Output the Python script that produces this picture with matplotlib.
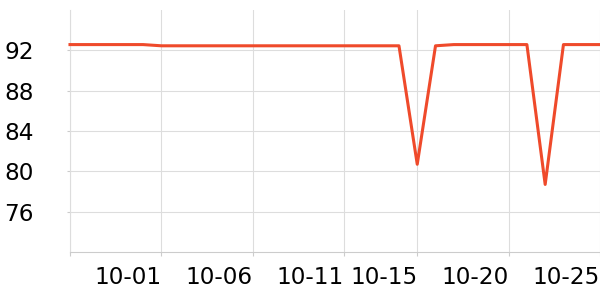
import numpy as np
import pandas as pd
import matplotlib
matplotlib.use('Agg')
import matplotlib.pyplot as plt
import matplotlib.dates as mdates

dates = pd.date_range('2023-09-26', '2023-10-25', freq='D')
values = [92.57, 92.57, 92.57, 92.57, 92.57,  # 09-26 .. 09-30
          92.45, 92.45, 92.45, 92.45, 92.45,  # 10-01 .. 10-05
          92.45, 92.45, 92.45, 92.45, 92.45,  # 10-06 .. 10-10
          92.45, 92.45, 92.45, 92.45,         # 10-11 .. 10-14
          80.7, 92.45,                        # 10-15, 10-16
          92.57, 92.57, 92.57, 92.57, 92.57,  # 10-17 .. 10-21
          78.7, 92.57, 92.57, 92.57]          # 10-22 .. 10-25
tick_dates = pd.to_datetime(['2023-09-26', '2023-10-01', '2023-10-06', '2023-10-11',
                             '2023-10-15', '2023-10-20', '2023-10-25'])
tick_labels = ['', '10-01', '10-06', '10-11', '10-15', '10-20', '10-25']
y_ticks = [76, 80, 84, 88, 92]

fig = plt.figure(figsize=(6, 3), dpi=100)
ax = fig.add_axes([70/600, 48/300, 530/600, 242/300])

ax.plot(dates, values, color='#ef4a2b', lw=2.2, zorder=3, clip_on=False)

ax.set_xlim(dates[0], dates[-1])
ax.set_ylim(72, 96)
ax.set_yticks(y_ticks)
ax.set_xticks(tick_dates)
ax.set_xticklabels(tick_labels, ha='right')
ax.grid(True, color='#dddddd', lw=0.8)
ax.tick_params(axis='both', labelsize=16.7, colors='#cccccc', labelcolor='black', length=3)
ax.tick_params(axis='y', length=2, pad=24)
ax.tick_params(axis='x', pad=7)

for s in ['top', 'right']:
    ax.spines[s].set_visible(False)
ax.spines['left'].set_color('#dddddd')
ax.spines['bottom'].set_color('#cccccc')

fig.savefig('out.png', dpi=100)
